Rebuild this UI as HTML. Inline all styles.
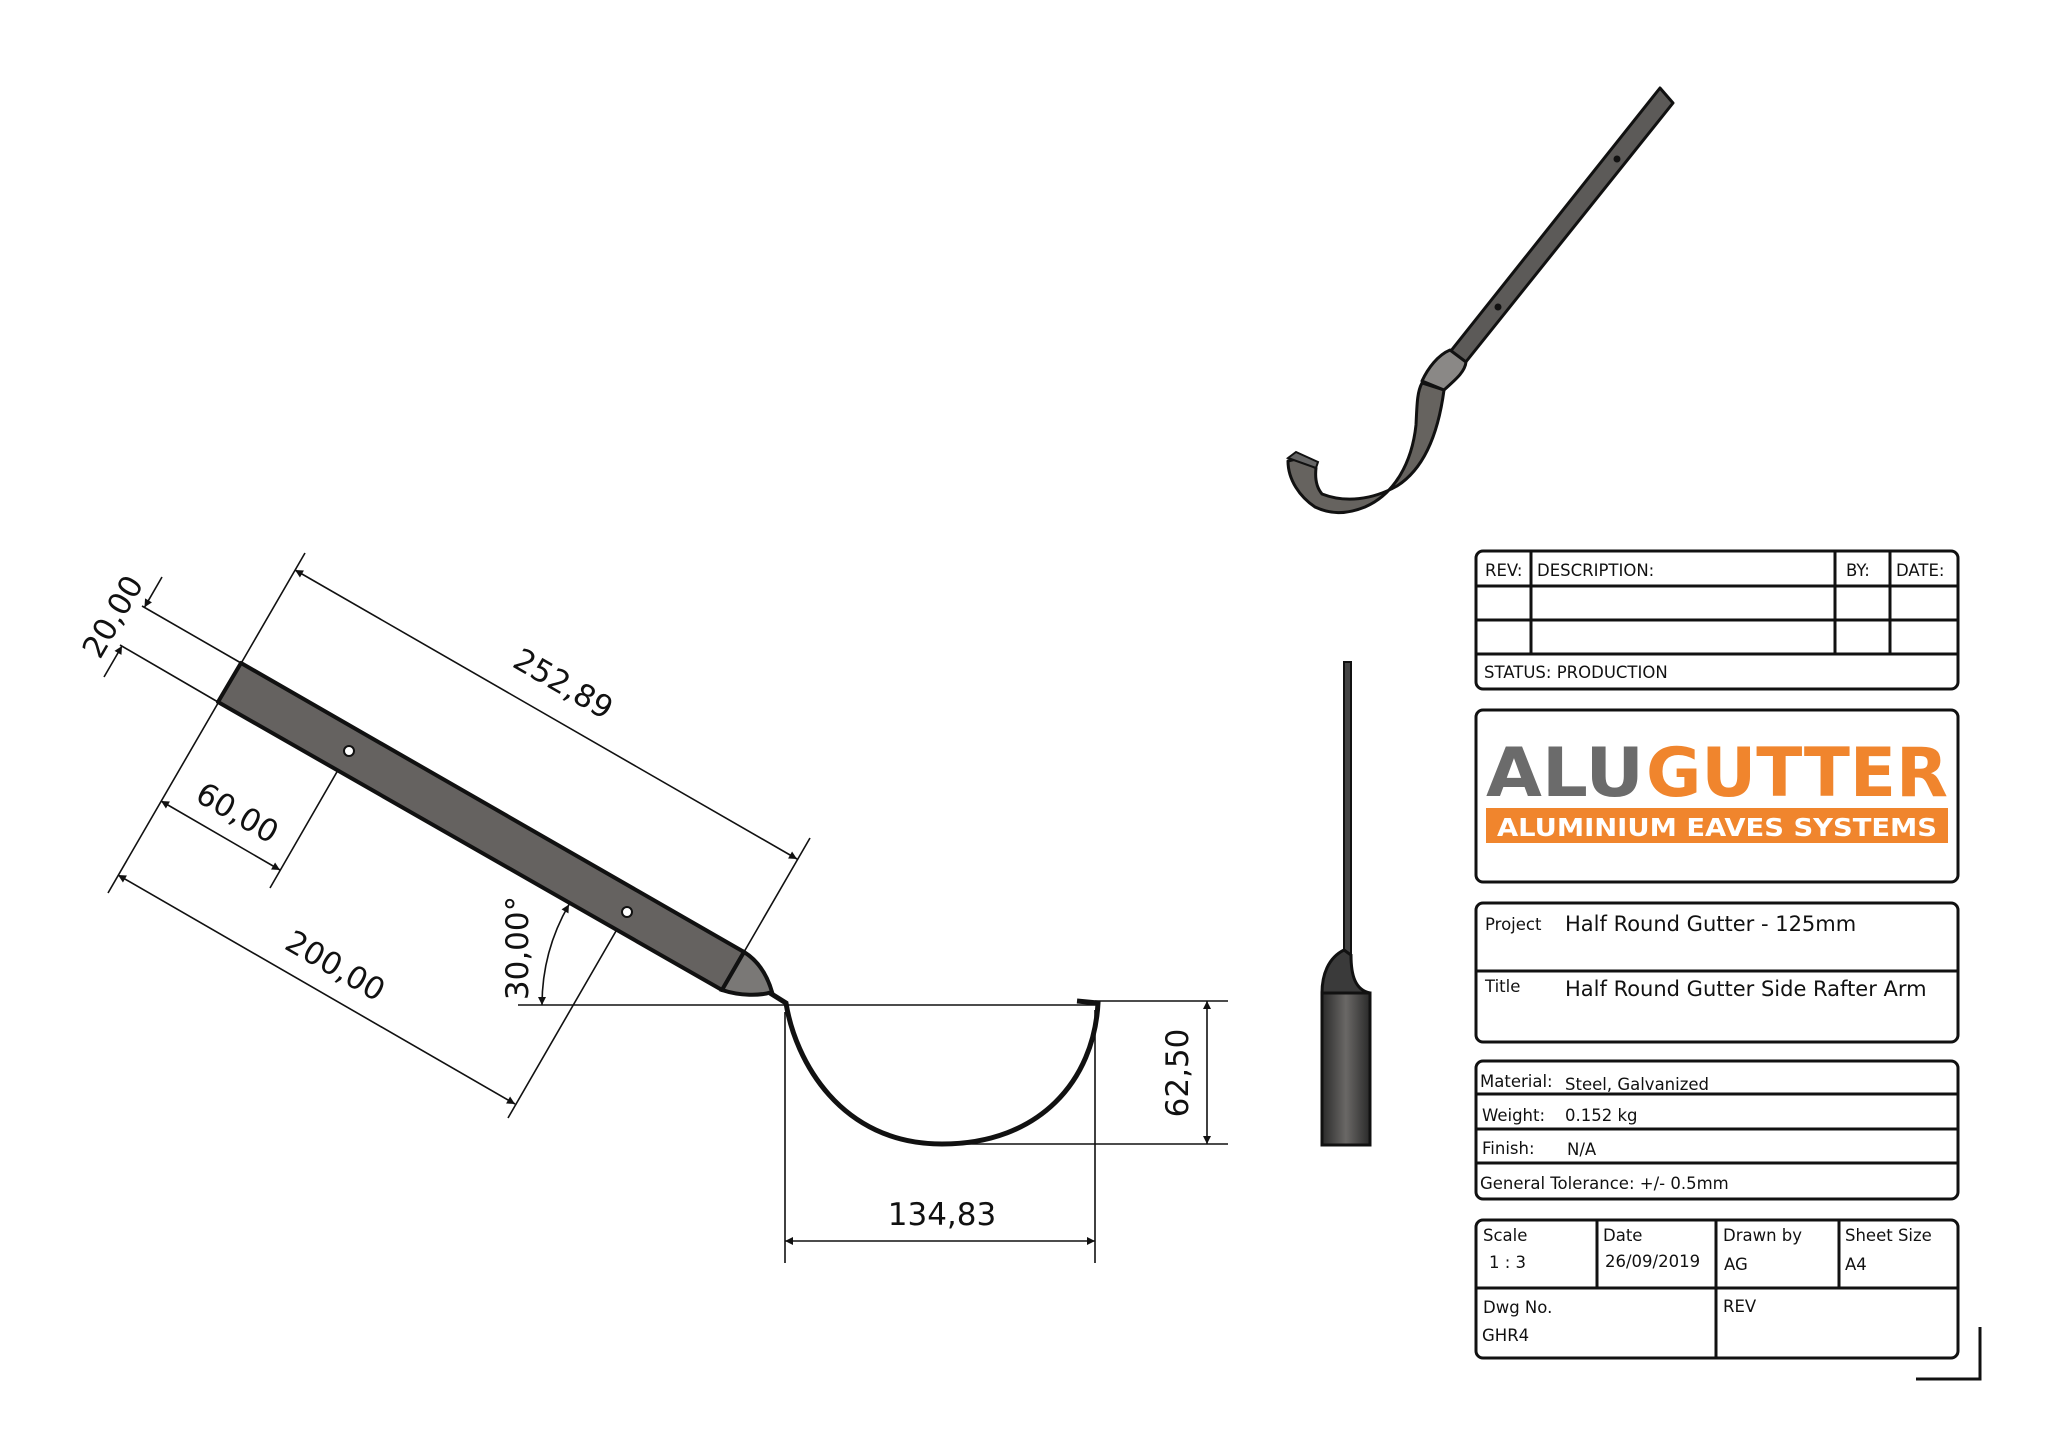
<!DOCTYPE html>
<html><head><meta charset="utf-8"><style>
html,body{margin:0;padding:0;background:#fff}
svg{display:block}
text{font-family:"DejaVu Sans","Liberation Sans",sans-serif;fill:#111}
.dim{font-size:31px;font-family:"DejaVu Sans",sans-serif}
.tb{font-size:16.5px}
.tv{font-size:21px}
</style></head><body>
<svg width="2048" height="1447" viewBox="0 0 2048 1447" xmlns="http://www.w3.org/2000/svg">
<defs>
<marker id="a" viewBox="0 0 10 10" refX="10" refY="5" markerWidth="18" markerHeight="8" markerUnits="userSpaceOnUse" orient="auto-start-reverse"><path d="M0,0 L10,5 L0,10z" fill="#111"/></marker>
<linearGradient id="g" x1="0" x2="1"><stop offset="0" stop-color="#2a2a2a"/><stop offset="0.5" stop-color="#6a6866"/><stop offset="1" stop-color="#2a2a2a"/></linearGradient>
</defs>

<!-- ===== Main front view ===== -->
<g stroke="#111" fill="none" stroke-width="1.6">
<line x1="305" y1="553" x2="108" y2="893"/>
<line x1="744" y1="952" x2="810" y2="838"/>
<line x1="241" y1="663" x2="142" y2="606"/>
<line x1="218" y1="702" x2="120" y2="645"/>
<line x1="349" y1="751" x2="270" y2="888"/>
<line x1="627" y1="912" x2="508" y2="1118"/>
<line x1="518" y1="1005" x2="786" y2="1005"/>
<line x1="786" y1="1005" x2="1098" y2="1005"/>
<line x1="1095" y1="1001" x2="1228" y2="1001"/>
<line x1="942" y1="1144" x2="1228" y2="1144"/>
<line x1="785" y1="1012" x2="785" y2="1263"/>
<line x1="1095" y1="1010" x2="1095" y2="1263"/>
<line x1="295" y1="570" x2="797" y2="859" marker-start="url(#a)" marker-end="url(#a)"/>
<line x1="118" y1="875" x2="515" y2="1104" marker-start="url(#a)" marker-end="url(#a)"/>
<line x1="161" y1="801" x2="280" y2="870" marker-start="url(#a)" marker-end="url(#a)"/>
<line x1="162" y1="577" x2="144.5" y2="607.3" marker-end="url(#a)"/>
<line x1="104" y1="677" x2="122" y2="646" marker-end="url(#a)"/>
<line x1="785" y1="1241" x2="1095" y2="1241" marker-start="url(#a)" marker-end="url(#a)"/>
<line x1="1207" y1="1001" x2="1207" y2="1144" marker-start="url(#a)" marker-end="url(#a)"/>
<path d="M542 1005 A201 201 0 0 1 569 904.5" marker-start="url(#a)" marker-end="url(#a)"/>
</g>
<polygon points="241,663 744,952 722,990 218,702" fill="#656260" stroke="#111" stroke-width="4" stroke-linejoin="round"/>
<path d="M744,952 C760,962 768,978 772,992 C760,996 740,996 722,990 Z" fill="#7a7876" stroke="#111" stroke-width="4"/>
<path d="M770,993 L786,1003 C795,1060 840,1144 942,1144 C1040,1144 1094,1080 1098,1003 L1077,1001" fill="none" stroke="#111" stroke-width="5"/>
<circle cx="349" cy="751" r="5" fill="#fff" stroke="#111" stroke-width="2"/>
<circle cx="627" cy="912" r="5" fill="#fff" stroke="#111" stroke-width="2"/>
<text class="dim" transform="translate(558,693) rotate(30)" text-anchor="middle">252,89</text>
<text class="dim" transform="translate(330,975) rotate(30)" text-anchor="middle">200,00</text>
<text class="dim" transform="translate(232,822) rotate(30)" text-anchor="middle">60,00</text>
<text class="dim" transform="translate(122,622) rotate(-60)" text-anchor="middle">20,00</text>
<text class="dim" transform="translate(528,948) rotate(-90)" text-anchor="middle">30,00°</text>
<text class="dim" transform="translate(1188,1073) rotate(-90)" text-anchor="middle">62,50</text>
<text class="dim" x="942" y="1225" text-anchor="middle">134,83</text>

<!-- ===== Side view ===== -->
<rect x="1344" y="662" width="7" height="295" fill="#444" stroke="#111" stroke-width="2"/>
<path d="M1344,950 C1328,958 1322,975 1322,993 L1370,993 C1355,990 1351,975 1351,955 Z" fill="#3a3a3a" stroke="#111" stroke-width="3"/>
<rect x="1322" y="993" width="48" height="152" fill="url(#g)" stroke="#111" stroke-width="3"/>

<!-- ===== Isometric view ===== -->
<polygon points="1660,88 1673,103 1465,363 1450,352" fill="#5c5a58" stroke="#111" stroke-width="3" stroke-linejoin="round"/>
<circle cx="1617" cy="159" r="3.5" fill="#111"/>
<circle cx="1498" cy="307" r="3.5" fill="#111"/>
<path d="M1422,383 L1444,390 C1440,420 1430,465 1397,486 C1372,500 1345,503 1322,494 C1316,487 1315,477 1316,468 L1300,458 L1288,461 C1288,480 1300,497 1315,507 C1330,514 1345,515 1365,507 C1395,494 1412,462 1416,425 C1417,405 1417,392 1422,383 Z" fill="#66635f" stroke="#111" stroke-width="3" stroke-linejoin="round"/>
<path d="M1450,350 C1438,355 1428,368 1422,381 L1444,390 C1455,380 1465,372 1466,362 Z" fill="#8a8886" stroke="#111" stroke-width="3" stroke-linejoin="round"/>
<polygon points="1288,458 1296,452 1318,462 1316,468" fill="#666" stroke="#111" stroke-width="2"/>

<!-- ===== Title block ===== -->
<g stroke="#111" stroke-width="3" fill="none">
<rect x="1476" y="551" width="482" height="138" rx="7"/>
<line x1="1476" y1="586" x2="1958" y2="586"/>
<line x1="1476" y1="620" x2="1958" y2="620"/>
<line x1="1476" y1="654" x2="1958" y2="654"/>
<line x1="1531" y1="551" x2="1531" y2="654"/>
<line x1="1835" y1="551" x2="1835" y2="654"/>
<line x1="1890" y1="551" x2="1890" y2="654"/>
<rect x="1476" y="710" width="482" height="172" rx="7"/>
<rect x="1476" y="903" width="482" height="139" rx="7"/>
<line x1="1476" y1="971" x2="1958" y2="971"/>
<rect x="1476" y="1061" width="482" height="138" rx="7"/>
<line x1="1476" y1="1094" x2="1958" y2="1094"/>
<line x1="1476" y1="1129" x2="1958" y2="1129"/>
<line x1="1476" y1="1163" x2="1958" y2="1163"/>
<rect x="1476" y="1220" width="482" height="138" rx="7"/>
<line x1="1476" y1="1288" x2="1958" y2="1288"/>
<line x1="1597" y1="1220" x2="1597" y2="1288"/>
<line x1="1716" y1="1220" x2="1716" y2="1358"/>
<line x1="1839" y1="1220" x2="1839" y2="1288"/>
<polyline points="1916,1379 1980,1379 1980,1327"/>
</g>
<text class="tb" x="1485" y="576">REV:</text>
<text class="tb" x="1537" y="576">DESCRIPTION:</text>
<text class="tb" x="1846" y="576">BY:</text>
<text class="tb" x="1896" y="576">DATE:</text>
<text class="tb" x="1484" y="678">STATUS: PRODUCTION</text>

<text x="1486" y="796" font-family="Liberation Sans,sans-serif" font-weight="bold" font-size="68" textLength="158" lengthAdjust="spacingAndGlyphs" style="fill:#6b6b6b">ALU</text>
<text x="1646" y="796" font-family="Liberation Sans,sans-serif" font-weight="bold" font-size="68" textLength="302" lengthAdjust="spacingAndGlyphs" style="fill:#f0852d">GUTTER</text>
<rect x="1486" y="808" width="462" height="35" fill="#f0852d"/>
<text x="1497" y="836" font-family="Liberation Sans,sans-serif" font-weight="bold" font-size="25" textLength="440" lengthAdjust="spacingAndGlyphs" style="fill:#fff">ALUMINIUM EAVES SYSTEMS</text>

<text class="tb" x="1485" y="930">Project</text>
<text class="tv" x="1565" y="931">Half Round Gutter - 125mm</text>
<text class="tb" x="1485" y="992">Title</text>
<text class="tv" x="1565" y="996">Half Round Gutter Side Rafter Arm</text>

<text class="tb" x="1480" y="1087">Material:</text>
<text class="tb" x="1565" y="1090">Steel, Galvanized</text>
<text class="tb" x="1482" y="1121">Weight:</text>
<text class="tb" x="1565" y="1121">0.152 kg</text>
<text class="tb" x="1482" y="1154">Finish:</text>
<text class="tb" x="1567" y="1155">N/A</text>
<text class="tb" x="1480" y="1189">General Tolerance:  +/- 0.5mm</text>

<text class="tb" x="1483" y="1241">Scale</text>
<text class="tb" x="1489" y="1268">1 : 3</text>
<text class="tb" x="1603" y="1241">Date</text>
<text class="tb" x="1605" y="1267">26/09/2019</text>
<text class="tb" x="1723" y="1241">Drawn by</text>
<text class="tb" x="1724" y="1270">AG</text>
<text class="tb" x="1845" y="1241">Sheet Size</text>
<text class="tb" x="1845" y="1270">A4</text>
<text class="tb" x="1483" y="1313">Dwg No.</text>
<text class="tb" x="1482" y="1341">GHR4</text>
<text class="tb" x="1723" y="1312">REV</text>
</svg>
</body></html>
